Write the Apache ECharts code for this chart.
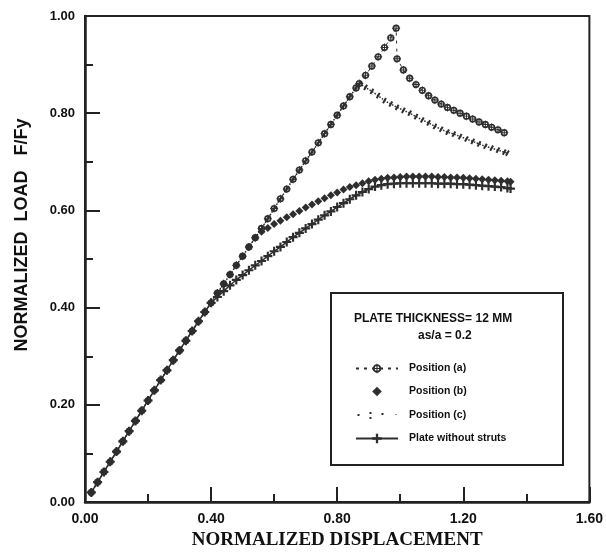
<!DOCTYPE html>
<html>
<head>
<meta charset="utf-8">
<script src="https://cdn.jsdelivr.net/npm/echarts@6/dist/echarts.min.js"></script>
<style>html,body{margin:0;padding:0;background:#fff}#c{width:606px;height:555px}</style>
</head>
<body>
<div id="c"></div>
<script>
// ---- data ----
const xTicks = [0.00, 0.40, 0.80, 1.20, 1.60];
const yTicks = [0.00, 0.20, 0.40, 0.60, 0.80, 1.00];
const seriesNames = ['Position (a)', 'Position (b)', 'Position (c)', 'Plate without struts'];
const legendTitle = 'PLATE THICKNESS= 12 MM';
const legendSub = 'as/a = 0.2';

// shared elastic rise (all four curves coincide here)
const commonRise = [[0.02,0.020],[0.04,0.041],[0.06,0.062],[0.08,0.083],[0.10,0.104],[0.12,0.125],[0.14,0.146],[0.16,0.167],[0.18,0.188],[0.20,0.209],[0.22,0.230],[0.24,0.251],[0.26,0.271],[0.28,0.292],[0.30,0.312],[0.32,0.332],[0.34,0.352],[0.36,0.372],[0.38,0.391],[0.40,0.410]];
// steep branch shared by positions (a) and (c) (and (b) up to ~0.54)
const steepRise = [[0.42,0.430],[0.44,0.449],[0.46,0.468],[0.48,0.487],[0.50,0.506],[0.52,0.525],[0.54,0.544],[0.56,0.563],[0.58,0.583],[0.60,0.604],[0.62,0.624],[0.64,0.644],[0.66,0.664],[0.68,0.683],[0.70,0.702],[0.72,0.720],[0.74,0.739],[0.76,0.758],[0.78,0.777],[0.80,0.796],[0.82,0.815],[0.84,0.834],[0.86,0.852],[0.87,0.861]];
const posATail = [[0.89,0.878],[0.91,0.897],[0.93,0.916],[0.95,0.935],[0.97,0.955],[0.987,0.975],[0.99,0.912],[1.01,0.889],[1.03,0.872],[1.05,0.859],[1.07,0.847],[1.09,0.836],[1.11,0.827],[1.13,0.819],[1.15,0.812],[1.17,0.806],[1.19,0.800],[1.21,0.794],[1.23,0.788],[1.25,0.782],[1.27,0.777],[1.29,0.771],[1.31,0.766],[1.33,0.760]];
const posCTail = [[0.89,0.853],[0.91,0.845],[0.93,0.836],[0.95,0.826],[0.97,0.819],[0.99,0.812],[1.01,0.806],[1.03,0.800],[1.05,0.793],[1.07,0.786],[1.09,0.780],[1.11,0.773],[1.13,0.767],[1.15,0.761],[1.17,0.757],[1.19,0.752],[1.21,0.747],[1.23,0.742],[1.25,0.737],[1.27,0.732],[1.29,0.728],[1.31,0.724],[1.33,0.720],[1.34,0.718]];
const posBTail = [[0.56,0.556],[0.58,0.564],[0.60,0.572],[0.62,0.579],[0.64,0.586],[0.66,0.592],[0.68,0.599],[0.70,0.606],[0.72,0.612],[0.74,0.619],[0.76,0.625],[0.78,0.631],[0.80,0.637],[0.82,0.643],[0.84,0.648],[0.86,0.652],[0.88,0.656],[0.90,0.660],[0.92,0.663],[0.94,0.665],[0.96,0.667],[0.98,0.668],[1.00,0.669],[1.02,0.670],[1.04,0.670],[1.06,0.670],[1.08,0.670],[1.10,0.670],[1.12,0.669],[1.14,0.669],[1.16,0.668],[1.18,0.668],[1.20,0.667],[1.22,0.666],[1.24,0.665],[1.26,0.664],[1.28,0.663],[1.30,0.662],[1.32,0.661],[1.34,0.660],[1.35,0.659]];
const plateTail = [[0.42,0.422],[0.44,0.434],[0.46,0.446],[0.48,0.457],[0.50,0.467],[0.52,0.477],[0.54,0.487],[0.56,0.496],[0.58,0.506],[0.60,0.516],[0.62,0.525],[0.64,0.535],[0.66,0.545],[0.68,0.554],[0.70,0.563],[0.72,0.572],[0.74,0.581],[0.76,0.590],[0.78,0.598],[0.80,0.607],[0.82,0.615],[0.84,0.623],[0.86,0.631],[0.88,0.638],[0.90,0.644],[0.92,0.649],[0.94,0.652],[0.96,0.654],[0.98,0.655],[1.00,0.656],[1.02,0.656],[1.04,0.656],[1.06,0.656],[1.08,0.656],[1.10,0.656],[1.12,0.655],[1.14,0.655],[1.16,0.655],[1.18,0.654],[1.20,0.654],[1.22,0.653],[1.24,0.652],[1.26,0.651],[1.28,0.650],[1.30,0.649],[1.32,0.648],[1.34,0.646],[1.35,0.645]];

// ---- build series ----
const posA = commonRise.concat(steepRise, posATail);
const posC = commonRise.concat(steepRise, posCTail);
const posB = commonRise.concat(steepRise.filter(p => p[0] <= 0.54), posBTail);
const plate = commonRise.concat(plateTail);

const INK = '#2e2e2e';
const symCircleCross = 'path://M10,1 A9,9 0 1,1 9.99,1 Z M10,5 A5,5 0 1,0 10.01,5 Z M8.8,0 L11.2,0 L11.2,20 L8.8,20 Z M0,8.8 L20,8.8 L20,11.2 L0,11.2 Z';
const symPlus = 'path://M3.8,0 L6.2,0 L6.2,10 L3.8,10 Z M0,3.8 L10,3.8 L10,6.2 L0,6.2 Z';
const symDash = 'path://M0,0 L2,0 L2,6 L0,6 Z';
const iconDots = 'path://M0,5 h2 v2 h-2 Z M12,3 h2 v2 h-2 Z M12,8 h2 v2 h-2 Z M24,4 h2 v2 h-2 Z M38,5 h1 v1 h-1 Z M0,0 h0.01 v0.01 Z M39,12 h0.01 v0.01 Z';

const chart = echarts.init(document.getElementById('c'), null, {renderer: 'canvas'});
const tickFont = 'Liberation Sans';
chart.setOption({
  backgroundColor: '#fff',
  animation: false,
  grid: {left: 85, right: 13, top: 16, bottom: 45, show: true, borderColor: '#222', borderWidth: 2, backgroundColor: 'transparent'},
  xAxis: {
    type: 'value', min: 0, max: 1.6, interval: 0.4,
    name: 'NORMALIZED DISPLACEMENT', nameLocation: 'middle', nameGap: 27,
    nameTextStyle: {fontFamily: 'Liberation Serif', fontWeight: 'bold', fontSize: 19, color: '#111'},
    axisLine: {lineStyle: {color: '#222', width: 2.5}},
    axisTick: {inside: true, length: 15, lineStyle: {color: '#222', width: 2}},
    minorTick: {show: true, splitNumber: 2, length: 8, lineStyle: {color: '#222', width: 2}},
    splitLine: {show: false},
    axisLabel: {margin: 10, fontFamily: tickFont, fontWeight: 'bold', fontSize: 14, color: '#111', formatter: v => v.toFixed(2), showMaxLabel: true}
  },
  yAxis: {
    type: 'value', min: 0, max: 1.0, interval: 0.2,
    name: 'NORMALIZED  LOAD   F/Fy', nameLocation: 'middle', nameGap: 54,
    nameTextStyle: {fontFamily: tickFont, fontWeight: 'bold', fontSize: 18, color: '#111', padding: [0, 0, 0, 48]},
    axisLine: {lineStyle: {color: '#222', width: 2.5}},
    axisTick: {inside: true, length: 15, lineStyle: {color: '#222', width: 2}},
    minorTick: {show: true, splitNumber: 2, length: 8, lineStyle: {color: '#222', width: 2}},
    splitLine: {show: false},
    axisLabel: {margin: 10, fontFamily: tickFont, fontWeight: 'bold', fontSize: 13, color: '#111', formatter: v => v.toFixed(2)}
  },
  legend: {
    orient: 'vertical', left: 350, top: 358, itemWidth: 42, itemHeight: 12, itemGap: 12,
    textStyle: {fontFamily: tickFont, fontWeight: 'bold', fontSize: 10.5, color: '#111', padding: [0, 0, 0, 6]},
    data: [
      {name: seriesNames[0]},
      {name: seriesNames[1]},
      {name: seriesNames[2], icon: iconDots},
      {name: seriesNames[3]}
    ]
  },
  graphic: [
    {type: 'rect', left: 330, top: 292, shape: {width: 232, height: 172}, style: {fill: '#fff', stroke: '#222', lineWidth: 2}, z: 1},
    {type: 'text', left: 354, top: 313, style: {text: legendTitle, fill: '#111', font: 'bold 12px "Liberation Sans"'}, z: 5},
    {type: 'text', left: 418, top: 330, style: {text: legendSub, fill: '#111', font: 'bold 12px "Liberation Sans"'}, z: 5}
  ],
  series: [
    {name: seriesNames[0], type: 'line', data: posA, symbol: symCircleCross, symbolSize: 8, z: 5,
      itemStyle: {color: INK}, lineStyle: {color: INK, width: 1, type: [3, 5]}},
    {name: seriesNames[1], type: 'line', data: posB, symbol: 'diamond', symbolSize: 8, z: 4,
      itemStyle: {color: INK}, lineStyle: {color: INK, width: 1, opacity: 0}},
    {name: seriesNames[2], type: 'line', data: posC, symbol: symDash, symbolSize: [2, 6], symbolRotate: -30, z: 6,
      itemStyle: {color: INK}, lineStyle: {color: INK, width: 1.5, type: 'dotted'}},
    {name: seriesNames[3], type: 'line', data: plate, symbol: symPlus, symbolSize: 9, z: 3,
      itemStyle: {color: INK}, lineStyle: {color: INK, width: 1.5}}
  ]
});
</script>
</body>
</html>
